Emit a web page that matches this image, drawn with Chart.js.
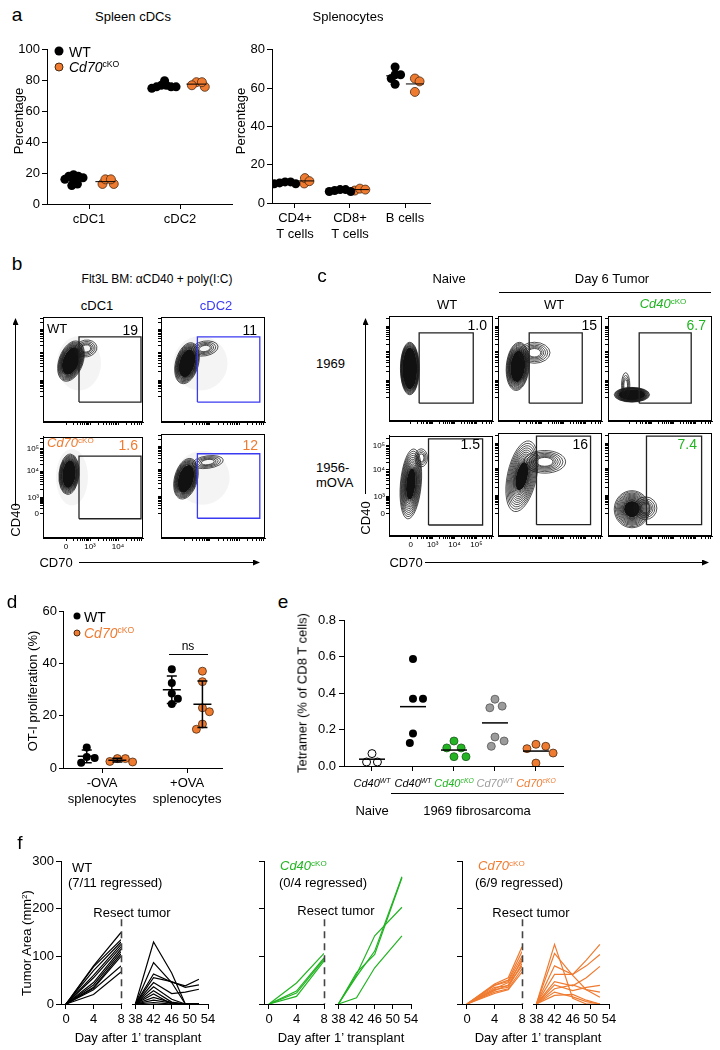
<!DOCTYPE html>
<html>
<head>
<meta charset="utf-8">
<script src="https://cdn.jsdelivr.net/npm/chart.js@4.4.1/dist/chart.umd.min.js"></script>
<style>
  body { margin: 0; background: #fff; }
  #page { position: relative; width: 720px; height: 1050px; overflow: hidden; font-family: "Liberation Sans", Arial, sans-serif; color: #000; }
  #page canvas { position: absolute; }
  .t { position: absolute; white-space: nowrap; font-size: 13px; line-height: 1; transform: translate(-50%, -50%); }
  .t.l { transform: translate(0, -50%); }
  .t.r { transform: translate(-100%, -50%); }
  .t.v { transform: translate(-50%, -50%) rotate(-90deg); }
  .t sup { font-size: 0.62em; vertical-align: baseline; position: relative; top: -0.55em; }
  .big { font-size: 19px; }
  .dot { position: absolute; border-radius: 50%; transform: translate(-50%, -50%); box-sizing: border-box; }
  svg { position: absolute; left: 0; top: 0; }
</style>
</head>
<body>
<div id="page">
<svg width="720" height="1050">
  <defs>
    <marker id="ah" markerWidth="7" markerHeight="6" refX="6" refY="3" orient="auto" markerUnits="userSpaceOnUse">
      <path d="M0,0 L7,3 L0,6 z" fill="#000"/>
    </marker>
  </defs>
  <g stroke="#000" stroke-width="1">
    <line x1="15.5" y1="506" x2="15.5" y2="319" marker-end="url(#ah)"/>
    <line x1="79" y1="562.5" x2="259" y2="562.5" marker-end="url(#ah)"/>
    <line x1="365.5" y1="494" x2="365.5" y2="319" marker-end="url(#ah)"/>
    <line x1="425" y1="562.5" x2="708" y2="562.5" marker-end="url(#ah)"/>
    <line x1="499" y1="292.5" x2="711" y2="292.5"/>
    <line x1="169" y1="654.5" x2="208" y2="654.5"/>
    <line x1="391" y1="793.5" x2="564" y2="793.5"/>
  </g>
</svg>
</div>
<script>
Chart.defaults.font.family = '"Liberation Sans", Arial, sans-serif';
Chart.defaults.font.size = 13;
Chart.defaults.color = '#000';
Chart.defaults.animation = false;

const ORANGE = '#EF7B31', GREEN = '#22B422', GRAY = '#9B9B9B', BLUE = '#3A3AF2';

// a: spleen cDCs and splenocytes (%)
const cdcCategories = ['cDC1', 'cDC2'];
const cdcWT = [[12, 18, 19, 18, 16, 15, 13, 17], [76, 77, 80, 76, 75, 77, 76]];
const cdcKO = [[13, 16, 13, 16], [76, 79, 77, 79]];
const splenoCategories = [['CD4+', 'T cells'], ['CD8+', 'T cells'], 'B cells'];
const splenoWT = [[10, 11, 11, 10, 10.5], [6, 7, 7, 6, 6.5], [71, 67, 67, 65, 62]];
const splenoKO = [[10.2, 13, 11.4], [6.5, 7.5, 7], [65, 63.5, 58]];

// d: OT-I proliferation (%)
const otiCategories = [['-OVA', 'splenocytes'], ['+OVA', 'splenocytes']];
const otiWT = [[2, 7.8, 4.2, 3.8], [37.7, 32.5, 24.5, 26.5, 28.5]];
const otiKO = [[2.3, 3.6, 2.5, 3.6], [37, 33, 21.5, 23, 14.8, 16.8]];

// e: tetramer (% of CD8 T cells)
const tetGenes = ['Cd40', 'Cd40', 'Cd40', 'Cd70', 'Cd70'];
const tetGenotypes = ['WT', 'WT', 'cKO', 'WT', 'cKO'];
const tetValues = [
  [0.022, 0.068, 0.022],
  [0.586, 0.368, 0.368, 0.178, 0.126],
  [0.137, 0.099, 0.099, 0.051, 0.051],
  [0.366, 0.319, 0.328, 0.159, 0.137, 0.108],
  [0.108, 0.119, 0.095, 0.071, 0.016]
];

// f: tumor area (mm2)
const earlyDays = [0, 4, 8];
const cd70EarlyDays = [0, 4, 6, 8];
const lateDays = [38, 42, 46, 49, 52];
const cd40LateDays = [38, 42, 46, 52];
const earlyTicks = [0, 4, 8];
const lateTicks = [38, 42, 46, 50, 54];
const areaTicks = [0, 100, 200, 300];
const resectDay = 8;
const wtEarly = [[0, 80, 150], [0, 78, 135], [0, 70, 130], [0, 60, 125], [0, 55, 120], [0, 45, 115],
                 [0, 40, 110], [0, 35, 105], [0, 33, 100], [0, 30, 80], [0, 20, 67]];
const wtLate = [[0, 130, 65, 0, 0], [0, 87, 45, 0, 0], [0, 63, 46, 38, 52], [0, 55, 47, 35, 40],
                [0, 45, 22, 25, 31], [0, 36, 10, 0, 0], [0, 28, 4, 0, 0], [0, 21, 0, 0, 0],
                [0, 14, 3, 0, 0], [0, 8, 2, 0, 0], [0, 3, 0, 0, 0]];
const cd40Early = [[0, 44, 106], [0, 27, 97], [0, 23, 94], [0, 16, 90]];
const cd40Late = [[0, 13, 76, 143], [0, 62, 143, 203], [0, 58, 111, 267], [0, 66, 104, 265]];
const cd70Early = [[0, 42, 55, 120], [0, 40, 50, 110], [0, 39, 47, 100], [0, 35, 38, 95], [0, 32, 45, 90],
                   [0, 30, 35, 85], [0, 28, 40, 80], [0, 25, 32, 74], [0, 22, 30, 67]];
const cd70Late = [[0, 125, 12, 0, 0], [0, 106, 60, 30, 14], [0, 80, 62, 92, 125], [0, 62, 62, 80, 104],
                  [0, 47, 38, 55, 79], [0, 40, 28, 35, 39], [0, 32, 40, 30, 25], [0, 25, 15, 5, 0],
                  [0, 18, 20, 8, 0]];

// b, c: flow plots, display units 0-100 on both axes
const flowLabels = ['0', '10³', '10⁴', '10⁵'];
const bDecadesX = [23, 47, 75];
const bDecadesY = [24, 40, 66, 88];
const cDecadesX = [21, 42, 63, 84];
const cDecadesY = [22, 39, 66, 90];
const bPercents = ['19', '11', '1.6', '12'];
const cPercents = ['1.0', '15', '6.7', '1.5', '16', '7.4'];
const bGates = [[36, 98, 19, 81], [35, 95, 19, 81], [36, 98, 19, 81], [35, 95, 19, 81]];
const cGates = [[29, 81, 17, 84], [30, 81, 17, 84], [30, 80, 17, 84],
                [38, 90, 11, 97], [37, 89, 11, 97], [37, 90, 11, 97]];
// blobs: [x, y, rx, ry, tilt, rings, core]
const bBlobs = [
  [[28, 58, 12, 20, 20, 9, 0.68], [43, 70, 11, 8, -10, 5, 0]],
  [[25, 56, 11, 20, 15, 9, 0.68], [42, 70, 13, 7, -10, 5, 0]],
  [[26, 63, 10, 20, 5, 9, 0.68]],
  [[24, 57, 11, 20, 15, 9, 0.68], [45, 73, 15, 6, -8, 5, 0]]
];
const bHalos = [[36, 56, 22, 26], [38, 56, 26, 26], [29, 60, 16, 28], [40, 58, 26, 26]];
const cBlobs = [
  [[20, 50, 9, 25, 0, 8, 0.8]],
  [[19, 52, 11, 23, 5, 10, 0.65], [35, 65, 15, 10, 0, 6, 0]],
  [[23, 25, 17, 7, 0, 8, 0.75], [17, 34, 4, 12, 0, 4, 0]],
  [[21, 52, 10, 35, 5, 12, 0.45], [31, 78, 6, 9, 0, 4, 0]],
  [[23, 58, 14, 35, 12, 12, 0.4], [45, 72, 20, 11, 0, 7, 0]],
  [[23, 26, 17, 18, 0, 12, 0.45], [36, 27, 11, 11, 0, 5, 0]]
];

const page = document.getElementById('page');

function txt(x, y, html, cls, style) {
  const d = document.createElement('div');
  d.className = 't ' + (cls || '');
  d.style.left = x + 'px';
  d.style.top = y + 'px';
  if (style) d.style.cssText += style;
  d.innerHTML = html;
  page.appendChild(d);
}
function dot(x, y, size, fill, border) {
  const d = document.createElement('div');
  d.className = 'dot';
  d.style.cssText += `left:${x}px;top:${y}px;width:${size}px;height:${size}px;background:${fill};` +
    (border ? `border:0.8px solid ${border};` : '');
  page.appendChild(d);
}

// area = [left, top, right, bottom] of the plot area on the page, m = [top, right, bottom, left] margins
function canvasAt(area, m) {
  const c = document.createElement('canvas');
  const w = area[2] - area[0] + m[1] + m[3], h = area[3] - area[1] + m[0] + m[2];
  c.width = w; c.height = h;
  Object.assign(c.style, { left: (area[0] - m[3]) + 'px', top: (area[1] - m[0]) + 'px', width: w + 'px', height: h + 'px' });
  page.appendChild(c);
  return c;
}
function linAxis(o) {
  return {
    type: 'linear', min: o.min, max: o.max,
    afterBuildTicks: s => { s.ticks = o.ticks.map(v => ({ value: v })); },
    afterFit: s => { if (o.isX) s.height = o.fit; else s.width = o.fit; },
    ticks: { display: !!o.label, autoSkip: false, maxRotation: 0, padding: o.pad ?? 3,
             font: { size: o.size || 13 }, color: '#000', callback: o.label || (() => '') },
    grid: { display: o.tick !== 0, drawOnChartArea: false, drawTicks: true, tickLength: o.tick ?? 5,
            color: '#000', lineWidth: 1 },
    border: { display: o.border !== false, color: '#000', width: 1 }
  };
}
function makeChart(area, m, xo, yo, datasets, plugins) {
  return new Chart(canvasAt(area, m), {
    type: 'scatter',
    data: { datasets },
    options: {
      responsive: false, animation: false,
      layout: { padding: { top: m[0], right: m[1], bottom: 0, left: 0 } },
      scales: { x: linAxis({ ...xo, isX: true, fit: m[2] }), y: linAxis({ ...yo, fit: m[3] }) },
      plugins: { legend: { display: false }, tooltip: { enabled: false } }
    },
    plugins: plugins || []
  });
}

// beeswarm offsets in px (largest value first), d = spacing between dot centres
function swarm(vals, pxY, d) {
  const placed = [], out = [];
  let flip = 1;
  vals.map((v, i) => i).sort((a, b) => vals[b] - vals[a]).forEach(i => {
    const yp = vals[i] * pxY, cands = [0];
    placed.forEach(p => {
      const dy = Math.abs(p.y - yp);
      if (dy < d) { const dx = Math.sqrt(d * d - dy * dy); cands.push(p.x + dx, p.x - dx); }
    });
    cands.sort((a, b) => (Math.abs(a) - Math.abs(b)) || (b - a) * flip);
    let best = 0;
    for (const c of cands) {
      if (placed.every(p => (p.x - c) ** 2 + (p.y - yp) ** 2 >= d * d - 0.01)) { best = c; break; }
    }
    if (best !== 0) flip = -flip;
    placed.push({ x: best, y: yp });
    out[i] = best;
  });
  return out;
}
function groupDataset(vals, center, pxX, pxY, r, d, fill, border) {
  const off = swarm(vals, pxY, d);
  return { data: vals.map((v, i) => ({ x: center + off[i] / pxX, y: v })), pointRadius: r,
           pointBackgroundColor: fill, pointBorderColor: border || fill, pointBorderWidth: border ? 0.8 : 0 };
}
function lineDataset(days, vals, color) {
  return { data: days.map((d, i) => ({ x: d, y: vals[i] })), showLine: true, pointRadius: 0,
           borderColor: color, borderWidth: 1.2, tension: 0 };
}
function statsPlugin(groups, o) {
  return {
    id: 'stats',
    afterDatasetsDraw(chart) {
      const { ctx, scales: { x, y } } = chart;
      ctx.save(); ctx.strokeStyle = '#000'; ctx.lineWidth = o.width;
      groups.forEach(g => {
        const n = g.values.length, mean = g.values.reduce((s, v) => s + v, 0) / n;
        const xc = x.getPixelForValue(g.x), ym = y.getPixelForValue(mean);
        ctx.beginPath(); ctx.moveTo(xc - o.half, ym); ctx.lineTo(xc + o.half, ym);
        if (o.cap) {
          const sd = Math.sqrt(g.values.reduce((s, v) => s + (v - mean) ** 2, 0) / (n - 1));
          const y1 = y.getPixelForValue(mean + sd), y2 = y.getPixelForValue(mean - sd);
          ctx.moveTo(xc, y1); ctx.lineTo(xc, y2);
          ctx.moveTo(xc - o.cap, y1); ctx.lineTo(xc + o.cap, y1);
          ctx.moveTo(xc - o.cap, y2); ctx.lineTo(xc + o.cap, y2);
        }
        ctx.stroke();
      });
      ctx.restore();
    }
  };
}
const catLabel = cats => v => cats[Math.round(v)];

// ---------- a
(function () {
  const pxX = 91, pxY = 156 / 100;
  const ds = [];
  cdcWT.forEach((v, i) => ds.push(groupDataset(v, i - 0.17, pxX, pxY, 4.5, 5, '#000')));
  cdcKO.forEach((v, i) => ds.push(groupDataset(v, i + 0.18, pxX, pxY, 4.5, 5.5, ORANGE, '#4a2a10')));
  const groups = cdcWT.map((v, i) => ({ x: i - 0.17, values: v })).concat(cdcKO.map((v, i) => ({ x: i + 0.18, values: v })));
  makeChart([47, 48, 232, 204], [8, 8, 46, 47],
    { min: -0.4615, max: 1.571, ticks: [0, 1], label: catLabel(cdcCategories) },
    { min: 0, max: 100, ticks: [0, 20, 40, 60, 80, 100], label: v => v, pad: 2 },
    ds, [statsPlugin(groups, { width: 1, half: 10 })]);
})();
(function () {
  const pxX = 55, pxY = 156 / 80;
  const ds = [];
  splenoWT.forEach((v, i) => ds.push(groupDataset(v, i - 0.18, pxX, pxY, 4.5, 5.5, '#000')));
  splenoKO.forEach((v, i) => ds.push(groupDataset(v, i + 0.18, pxX, pxY, 4.5, 5.5, ORANGE, '#4a2a10')));
  const groups = splenoWT.map((v, i) => ({ x: i - 0.18, values: v })).concat(splenoKO.map((v, i) => ({ x: i + 0.18, values: v })));
  makeChart([272, 47, 430, 203], [7, 10, 47, 47],
    { min: -0.418, max: 2.4545, ticks: [0, 1, 2], label: catLabel(splenoCategories) },
    { min: 0, max: 80, ticks: [0, 20, 40, 60, 80], label: v => v, pad: 2 },
    ds, [statsPlugin(groups, { width: 1, half: 9 })]);
})();
txt(17, 14, 'a', 'big');
txt(133, 16, 'Spleen cDCs');
txt(348, 16, 'Splenocytes');
txt(18, 121, 'Percentage', 'v');
txt(240, 121, 'Percentage', 'v');
dot(59, 51, 9, '#000');
txt(69, 52, 'WT', 'l', 'font-size:14px');
dot(59, 67, 9, ORANGE, '#4a2a10');
txt(69, 67, '<i>Cd70</i><sup>cKO</sup>', 'l', 'font-size:14px');

// ---------- b, c flow plots
function minorTicks(decades) {
  const out = [];
  for (let i = 1; i < decades.length; i++) {
    const a = decades[i - 1], w = decades[i] - a;
    for (let k = 2; k <= 9; k++) out.push(a + w * Math.log10(k));
  }
  const n = decades.length, last = decades[n - 1], w = last - decades[n - 2];
  for (let k = 2; k <= 9; k++) { const p = last + w * Math.log10(k); if (p < 100) out.push(p); }
  return out;
}
function flowPlugin(blobs, halo) {
  return {
    id: 'flow',
    beforeDatasetsDraw(chart) {
      const { ctx, chartArea: a, scales: { x, y } } = chart;
      const kx = (x.getPixelForValue(100) - x.getPixelForValue(0)) / 100;
      const ky = (y.getPixelForValue(0) - y.getPixelForValue(100)) / 100;
      ctx.save();
      ctx.beginPath(); ctx.rect(a.left, a.top, a.right - a.left, a.bottom - a.top); ctx.clip();
      if (halo) {
        ctx.fillStyle = 'rgba(0,0,0,0.045)';
        ctx.beginPath();
        ctx.ellipse(x.getPixelForValue(halo[0]), y.getPixelForValue(halo[1]), halo[2] * kx, halo[3] * ky, 0, 0, 2 * Math.PI);
        ctx.fill();
      }
      blobs.forEach(([cx, cy, rx, ry, tilt, rings, core]) => {
        const px = x.getPixelForValue(cx), py = y.getPixelForValue(cy), ang = tilt * Math.PI / 180;
        const inner = core || 0.35;
        if (core) {
          ctx.fillStyle = '#111';
          ctx.beginPath(); ctx.ellipse(px, py, rx * kx * core, ry * ky * core, ang, 0, 2 * Math.PI); ctx.fill();
        }
        ctx.strokeStyle = '#1a1a1a'; ctx.lineWidth = 0.75;
        for (let i = 0; i < rings; i++) {
          const s = inner + (1 - inner) * Math.pow(1 - i / rings, 1.4);
          ctx.beginPath(); ctx.ellipse(px, py, rx * kx * s, ry * ky * s, ang, 0, 2 * Math.PI); ctx.stroke();
        }
      });
      ctx.restore();
    },
    afterDraw(chart) {
      const { ctx, chartArea: a } = chart;
      ctx.save(); ctx.strokeStyle = '#000'; ctx.lineWidth = 1;
      ctx.strokeRect(Math.round(a.left) + 0.5, Math.round(a.top) + 0.5, Math.round(a.right - a.left) - 1, Math.round(a.bottom - a.top) - 1);
      ctx.restore();
    }
  };
}
function flowChart(area, labelled, decX, decY, gate, gateColor, blobs, halo) {
  const m = labelled ? [3, 3, 17, labelled] : [3, 3, 8, 8];
  const lab = dec => v => { const i = dec.findIndex(d => Math.abs(d - v) < 0.01); return i >= 0 ? flowLabels[i] : ''; };
  const gateData = [[gate[0], gate[2]], [gate[1], gate[2]], [gate[1], gate[3]], [gate[0], gate[3]], [gate[0], gate[2]]]
    .map(([x, y]) => ({ x, y }));
  makeChart(area, m,
    { min: 0, max: 100, ticks: decX.concat(minorTicks(decX)), tick: 3, size: 8, pad: 1, label: labelled ? lab(decX) : null },
    { min: 0, max: 100, ticks: decY.concat(minorTicks(decY)), tick: 3, size: 8, pad: 1, label: labelled ? lab(decY) : null },
    [{ data: gateData, showLine: true, pointRadius: 0, borderColor: gateColor, borderWidth: 1.3, tension: 0 }],
    [flowPlugin(blobs, halo)]);
}
const bAreas = [[43, 317, 143, 422], [161, 317, 265, 422], [43, 434, 143, 538], [161, 434, 265, 538]];
bAreas.forEach((a, i) => flowChart(a, i === 2 ? 28 : 0, bDecadesX, bDecadesY, bGates[i], i % 2 ? BLUE : '#222', bBlobs[i], bHalos[i]));
const cCols = [[389, 493], [498, 602], [608, 712]], cRows = [[316, 421], [433, 536]];
cRows.forEach((r, ri) => cCols.forEach((c, ci) => {
  const k = ri * 3 + ci;
  flowChart([c[0], r[0], c[1], r[1]], k === 3 ? 24 : 0, cDecadesX, cDecadesY, cGates[k], '#222', cBlobs[k], null);
}));

txt(17, 263, 'b', 'big');
txt(157, 279, 'Flt3L BM: αCD40 + poly(I:C)', '', 'font-size:12px');
txt(97, 305, 'cDC1');
txt(216, 305, 'cDC2', '', 'color:' + BLUE);
txt(47, 328, 'WT', 'l');
txt(47, 443, '<i>Cd70</i><sup>cKO</sup>', 'l', 'color:' + ORANGE);
txt(138, 330, bPercents[0], 'r', 'font-size:14px');
txt(257, 330, bPercents[1], 'r', 'font-size:14px');
txt(138, 445, bPercents[2], 'r', 'font-size:14px;color:' + ORANGE);
txt(258, 445, bPercents[3], 'r', 'font-size:14px;color:' + ORANGE);
txt(15, 520, 'CD40', 'v');
txt(56, 562, 'CD70');

txt(322, 275, 'c', 'big');
txt(449, 278, 'Naive');
txt(612, 278, 'Day 6 Tumor');
txt(447, 304, 'WT');
txt(554, 304, 'WT');
txt(663, 304, '<i>Cd40</i><sup>cKO</sup>', '', 'color:' + GREEN);
txt(316, 363, '1969', 'l');
txt(316, 467, '1956-', 'l');
txt(316, 482, 'mOVA', 'l');
[[487, 325], [597, 325], [706, 325], [480, 444], [588, 444], [697, 444]].forEach((p, i) =>
  txt(p[0], p[1], cPercents[i], 'r', 'font-size:14px' + (i % 3 === 2 ? ';color:' + GREEN : '')));
txt(365, 518, 'CD40', 'v');
txt(406, 562, 'CD70');

// ---------- d
(function () {
  const pxX = 85, pxY = 157 / 60;
  const ds = [];
  otiWT.forEach((v, i) => ds.push(groupDataset(v, i - 0.18, pxX, pxY, 4, 8, '#000')));
  otiKO.forEach((v, i) => ds.push(groupDataset(v, i + 0.18, pxX, pxY, 4, 8, ORANGE, '#4a2a10')));
  const groups = otiWT.map((v, i) => ({ x: i - 0.18, values: v })).concat(otiKO.map((v, i) => ({ x: i + 0.18, values: v })));
  makeChart([63, 611, 222, 768], [10, 8, 47, 63],
    { min: -0.459, max: 1.41, ticks: [0, 1], label: catLabel(otiCategories) },
    { min: 0, max: 60, ticks: [0, 20, 40, 60], label: v => v, pad: 2, tick: 4 },
    ds, [statsPlugin(groups, { width: 1.5, half: 9, cap: 5 })]);
})();
txt(12, 601, 'd', 'big');
txt(32, 691, 'OT-I proliferation (%)', 'v');
dot(77, 616, 7, '#000');
txt(84, 617, 'WT', 'l', 'font-size:14px');
dot(77, 633, 7, ORANGE, '#4a2a10');
txt(84, 633, '<i>Cd70</i><sup>cKO</sup>', 'l', 'font-size:14px;color:' + ORANGE);
txt(188, 646, 'ns', '', 'font-size:12px');

// ---------- e
(function () {
  const pxX = 41, pxY = 146 / 0.8;
  const styles = [['#fff', '#000'], ['#000', null], [GREEN, '#1c5a1c'], [GRAY, '#555'], [ORANGE, '#4a2a10']];
  const ds = tetValues.map((v, i) => groupDataset(v, i, pxX, pxY, 4, 10, styles[i][0], styles[i][1]));
  ds[0].pointBorderWidth = 1;
  const groups = tetValues.map((v, i) => ({ x: i, values: v }));
  const ch = makeChart([344, 620, 563, 766], [12, 12, 20, 54],
    { min: -0.683, max: 4.66, ticks: [0, 1, 2, 3, 4] },
    { min: 0, max: 0.8, ticks: [0, 0.2, 0.4, 0.6, 0.8], label: v => v.toFixed(1), pad: 3, tick: 5 },
    ds, [statsPlugin(groups, { width: 1.5, half: 13 })]);
  const colors = ['#000', '#000', GREEN, GRAY, ORANGE];
  tetGenes.forEach((g, i) => {
    const px = 290 + ch.scales.x.getPixelForValue(i);
    txt(px, 783, `<i>${g}</i><sup><i>${tetGenotypes[i]}</i></sup>`, '', 'font-size:11px;color:' + colors[i]);
  });
})();
txt(283, 601, 'e', 'big');
txt(302, 693, 'Tetramer (% of CD8 T cells)', 'v');
txt(372, 810, 'Naive');
txt(477, 810, '1969 fibrosarcoma');

// ---------- f
function resectPlugin() {
  return {
    id: 'resect',
    afterDatasetsDraw(chart) {
      const { ctx, scales: { x, y } } = chart;
      const px = Math.round(x.getPixelForValue(resectDay)) + 0.5;
      ctx.save(); ctx.strokeStyle = '#444'; ctx.lineWidth = 1.6; ctx.setLineDash([7, 5]);
      ctx.beginPath(); ctx.moveTo(px, y.getPixelForValue(178)); ctx.lineTo(px, y.getPixelForValue(0)); ctx.stroke();
      ctx.restore();
    }
  };
}
function tumorPanel(y0, color, eDays, early, lDays, late, labelled) {
  const top = 861, bottom = 1004;
  makeChart([y0, top, y0 + 60, bottom], [11, 8, 46, labelled ? 61 : 20],
    { min: -0.727, max: 8, ticks: earlyTicks, label: v => v, pad: 3 },
    { min: 0, max: 300, ticks: areaTicks, label: labelled ? v => v : null, pad: 2 },
    early.map(v => lineDataset(eDays, v, color)), [resectPlugin()]);
  makeChart([y0 + 68, top, y0 + 147, bottom], [11, 12, 46, 4],
    { min: 37.37, max: 54, ticks: lateTicks, label: v => v, pad: 3 },
    { min: 0, max: 300, ticks: areaTicks, tick: 0, border: false },
    late.map(v => lineDataset(lDays, v, color)));
}
tumorPanel(61, '#000', earlyDays, wtEarly, lateDays, wtLate, true);
tumorPanel(264, GREEN, earlyDays, cd40Early, cd40LateDays, cd40Late, false);
tumorPanel(462, ORANGE, cd70EarlyDays, cd70Early, lateDays, cd70Late, false);

txt(20, 842, 'f', 'big');
txt(27, 943, 'Tumor Area (mm<sup>2</sup>)', 'v');
txt(72, 867, 'WT', 'l');
txt(68, 882, '(7/11 regressed)', 'l');
txt(280, 866, '<i>Cd40</i><sup>cKO</sup>', 'l', 'color:' + GREEN);
txt(279, 882, '(0/4 regressed)', 'l');
txt(478, 866, '<i>Cd70</i><sup>cKO</sup>', 'l', 'color:' + ORANGE);
txt(475, 882, '(6/9 regressed)', 'l');
txt(132, 912, 'Resect tumor');
txt(336, 910, 'Resect tumor');
txt(531, 912, 'Resect tumor');
txt(138, 1037, 'Day after 1’ transplant');
txt(341, 1037, 'Day after 1’ transplant');
txt(538, 1037, 'Day after 1’ transplant');
</script>
</body>
</html>
